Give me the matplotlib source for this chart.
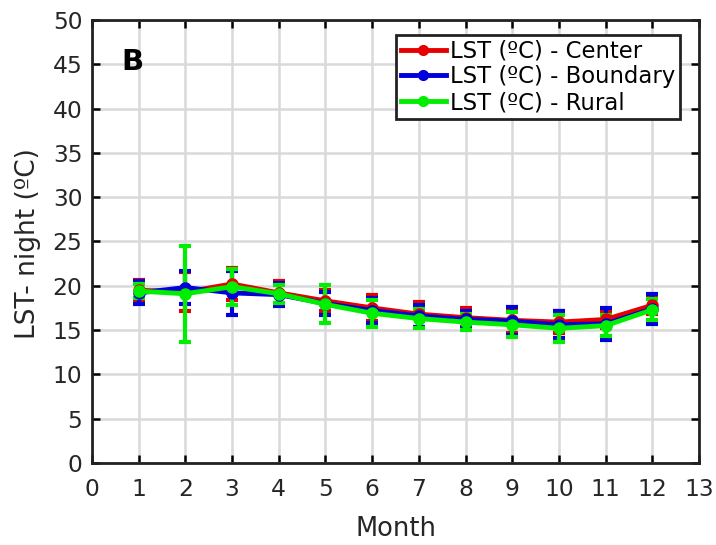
import numpy as np
import matplotlib.pyplot as plt
from matplotlib.lines import Line2D

plt.rcParams['font.family'] = ['DejaVu Sans']

months = np.arange(1, 13)

# LST night means (ºC) and error half-widths
center = [19.5, 19.3, 20.2, 19.2, 18.3, 17.5, 16.8, 16.4, 16.1, 15.9, 16.2, 17.8]
center_err = [1.2, 2.2, 1.8, 1.3, 1.2, 1.5, 1.4, 1.1, 1.4, 1.2, 1.0, 1.0]

boundary = [19.2, 19.8, 19.2, 19.0, 18.0, 17.2, 16.6, 16.2, 16.0, 15.6, 15.7, 17.4]
boundary_err = [1.3, 1.9, 2.5, 1.3, 1.3, 1.4, 1.2, 1.0, 1.6, 1.5, 1.8, 1.7]

rural = [19.4, 19.1, 19.9, 19.1, 17.9, 16.9, 16.3, 15.9, 15.6, 15.2, 15.5, 17.3]
rural_err = [0.8, 5.4, 2.05, 1.0, 2.15, 1.5, 1.1, 0.9, 1.4, 1.5, 1.2, 1.2]

labels = ['LST (ºC) - Center', 'LST (ºC) - Boundary', 'LST (ºC) - Rural']
colors = ['#e60000', '#0000d9', '#00ee00']

fig = plt.figure(figsize=(7.16, 5.45), dpi=100)
ax = fig.add_axes([0.1285, 0.1505, 0.8478, 0.8128])

series = [(center, center_err), (boundary, boundary_err), (rural, rural_err)]
handles = []
for (vals, err), lab, c in zip(series, labels, colors):
    ax.errorbar(months, vals, yerr=err, color=c, lw=3.5, marker='o', ms=8,
                mfc=c, mec=c, capsize=4, capthick=3, elinewidth=3)
    handles.append(Line2D([], [], color=c, lw=3.5, marker='o', ms=7,
                          mfc=c, mec=c, label=lab))

ax.set_xlim(0, 13)
ax.set_ylim(0, 50)
ax.set_xticks(range(0, 14))
ax.set_yticks(range(0, 51, 5))
ax.grid(True, color='#d9d9d9', lw=1.8)
ax.set_axisbelow(True)
ax.tick_params(direction='in', length=6, width=1.8, top=True, right=True,
               labelsize=16.8, labelcolor='#262626')
ax.tick_params(axis='x', pad=11)
ax.tick_params(axis='y', pad=7)
for s in ax.spines.values():
    s.set_linewidth(2)
    s.set_color('#222222')

ax.set_xlabel('Month', fontsize=18.5, color='#262626', va='center')
ax.set_ylabel('LST- night (ºC)', fontsize=19, color='#262626', va='center')
ax.xaxis.set_label_coords(0.5, -0.15)
ax.yaxis.set_label_coords(-0.105, 0.495)
ax.text(0.049, 0.905, 'B', transform=ax.transAxes, fontsize=21,
        fontweight='bold', ha='left', va='center')

leg = ax.legend(handles=handles, loc='upper right', fontsize=16.4,
                fancybox=False, framealpha=1, edgecolor='#222222',
                handlelength=2.0, handletextpad=0.15, borderpad=0.2,
                labelspacing=0.12, borderaxespad=0.0,
                bbox_to_anchor=(0.968, 0.966))
leg.get_frame().set_linewidth(2)

fig.savefig('out.png', dpi=100)
